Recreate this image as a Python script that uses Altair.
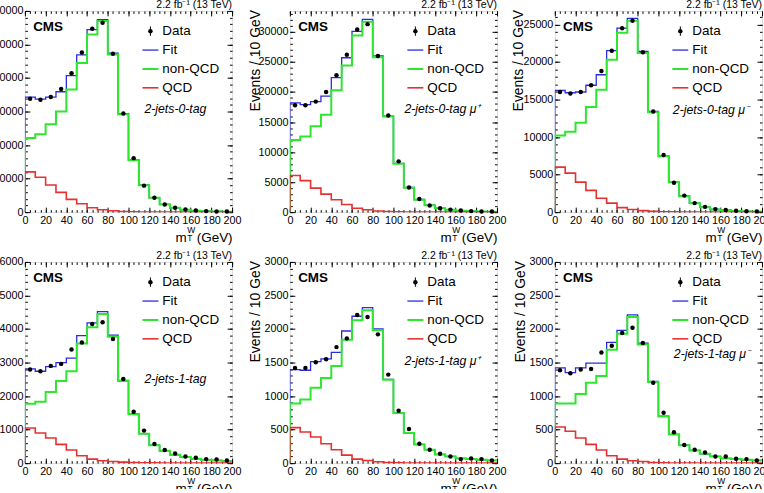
import altair as alt
import pandas as pd

# ---------------------------------------------------------------- binning
BIN_EDGES = list(range(0, 201, 10))          # m_T^W bin edges, GeV
BIN_CENTERS = [5 + 10 * i for i in range(20)]

LEGEND_LABELS = ["Data", "Fit", "non-QCD", "QCD"]
LUMI_TEXT = "2.2 fb\u207b\u00b9 (13 TeV)"
Y_TITLE = "Events / 10 GeV"

# ---------------------------------------------------------------- 2-jets-0-tag
p1_data = [33800, 33500, 34300, 36700, 41400, 47600, 54700, 56500, 47200, 29400,
           16100, 7900, 4300, 2300, 1300, 800, 500, 300, 200, 180]
p1_fit = [34300, 33700, 34300, 35900, 40700, 46900, 54400, 57400, 47400, 29400,
          15600, 8100, 4300, 2300, 1300, 750, 450, 300, 200, 130]
p1_nonqcd = [22100, 23200, 26200, 30000, 36600, 44500, 53000, 57000, 47000, 29200,
             15500, 8050, 4280, 2280, 1290, 740, 445, 295, 195, 128]
p1_qcd = [12000, 10400, 8100, 5900, 3800, 2500, 1300, 700, 400, 200,
          100, 60, 30, 20, 10, 10, 5, 5, 5, 2]

# ---------------------------------------------------------------- 2-jets-0-tag mu+
p2_data = [17800, 17800, 18400, 20000, 22800, 26200, 30400, 31300, 26000, 16100,
           8450, 4100, 2200, 1100, 650, 420, 280, 170, 120, 90]
p2_fit = [18200, 17900, 18400, 19300, 22400, 25700, 30100, 32100, 26000, 16000,
          8100, 4100, 2100, 1150, 650, 400, 250, 150, 100, 70]
p2_nonqcd = [12000, 12600, 14300, 16200, 20300, 24400, 29400, 31700, 25800, 15900,
             8050, 4070, 2080, 1140, 640, 390, 248, 149, 99, 69]
p2_qcd = [6100, 5250, 4000, 3000, 2050, 1270, 650, 400, 200, 100,
          50, 30, 20, 10, 10, 5, 2, 1, 1, 1]

# ---------------------------------------------------------------- 2-jets-0-tag mu-
p3_data = [16000, 15800, 16000, 16900, 18800, 21500, 24500, 25500, 21300, 13400,
           7600, 3900, 2200, 1200, 700, 400, 280, 170, 120, 100]
p3_fit = [16200, 15900, 16000, 16900, 18300, 21500, 24500, 25800, 21400, 13400,
          7500, 4000, 2150, 1200, 650, 350, 250, 150, 100, 80]
p3_nonqcd = [10200, 10700, 11900, 14000, 16300, 20300, 23900, 25500, 21200, 13300,
             7450, 3970, 2130, 1190, 640, 345, 248, 149, 99, 79]
p3_qcd = [6000, 5200, 4000, 2900, 1850, 1200, 600, 350, 200, 100,
          50, 30, 20, 10, 10, 5, 2, 1, 1, 1]

# ---------------------------------------------------------------- 2-jets-1-tag
p4_data = [2790, 2740, 2900, 2960, 3390, 3600, 4150, 4200, 3700, 2510,
           1530, 970, 570, 390, 290, 200, 160, 120, 110, 80]
p4_fit = [2810, 2740, 2880, 3000, 3130, 3800, 4180, 4520, 3820, 2470,
          1470, 880, 540, 370, 250, 180, 130, 100, 80, 60]
p4_nonqcd = [1770, 1830, 2120, 2450, 2740, 3570, 4050, 4450, 3770, 2450,
             1460, 875, 535, 368, 249, 180, 130, 100, 80, 60]
p4_qcd = [1050, 900, 750, 560, 390, 220, 120, 70, 50, 30,
          20, 10, 10, 3, 2, 1, 1, 1, 0, 0]

# ---------------------------------------------------------------- 2-jets-1-tag mu+
p5_data = [1420, 1420, 1505, 1550, 1730, 1860, 2210, 2180, 1920, 1320,
           780, 510, 290, 200, 140, 100, 60, 70, 60, 40]
p5_fit = [1395, 1385, 1515, 1555, 1650, 1970, 2190, 2320, 2000, 1250,
          750, 450, 280, 200, 130, 100, 70, 60, 50, 40]
p5_nonqcd = [890, 950, 1125, 1270, 1450, 1840, 2130, 2280, 1980, 1245,
             748, 449, 279, 199, 130, 100, 70, 60, 50, 40]
p5_qcd = [530, 465, 390, 290, 200, 120, 60, 40, 20, 10,
          5, 3, 2, 1, 1, 0, 0, 0, 0, 0]

# ---------------------------------------------------------------- 2-jets-1-tag mu-
p6_data = [1385, 1340, 1395, 1405, 1650, 1750, 1940, 2020, 1790, 1200,
           750, 460, 270, 200, 160, 100, 100, 65, 60, 40]
p6_fit = [1420, 1350, 1420, 1490, 1490, 1800, 1980, 2210, 1790, 1220,
          700, 430, 270, 190, 140, 100, 70, 60, 50, 40]
p6_nonqcd = [890, 890, 1030, 1200, 1300, 1690, 1930, 2180, 1770, 1210,
             695, 428, 268, 189, 140, 100, 70, 60, 50, 40]
p6_qcd = [540, 475, 375, 280, 195, 110, 60, 35, 25, 10,
          5, 3, 2, 1, 0, 0, 0, 0, 0, 0]

PANELS = [
    dict(tag="2-jets-0-tag", data=p1_data, fit=p1_fit, nonqcd=p1_nonqcd, qcd=p1_qcd,
         ymax=60000, major=10000, minor=2000, tag_x=120, tag_y=98, ytitle_x=-31),
    dict(tag="2-jets-0-tag  \u03bc\u207a", data=p2_data, fit=p2_fit, nonqcd=p2_nonqcd, qcd=p2_qcd,
         ymax=33500, major=5000, minor=1000, tag_x=115, tag_y=98, ytitle_x=-30),
    dict(tag="2-jets-0-tag  \u03bc\u207b", data=p3_data, fit=p3_fit, nonqcd=p3_nonqcd, qcd=p3_qcd,
         ymax=26800, major=5000, minor=1000, tag_x=118.5, tag_y=99, ytitle_x=-32),
    dict(tag="2-jets-1-tag", data=p4_data, fit=p4_fit, nonqcd=p4_nonqcd, qcd=p4_qcd,
         ymax=6000, major=1000, minor=200, tag_x=120, tag_y=117.5, ytitle_x=-30),
    dict(tag="2-jets-1-tag  \u03bc\u207a", data=p5_data, fit=p5_fit, nonqcd=p5_nonqcd, qcd=p5_qcd,
         ymax=3000, major=500, minor=100, tag_x=115, tag_y=99, ytitle_x=-30),
    dict(tag="2-jets-1-tag  \u03bc\u207b", data=p6_data, fit=p6_fit, nonqcd=p6_nonqcd, qcd=p6_qcd,
         ymax=3000, major=500, minor=100, tag_x=119.5, tag_y=92.5, ytitle_x=-30),
]

# ---------------------------------------------------------------- style
FONT = "Liberation Sans"
BLUE = "#2b2be0"
GREEN = "#2fe62f"
RED = "#e83030"
W, H = 208, 202
MAJOR_LEN, MINOR_LEN = 5, 2.5
LEG_X0, LEG_X1, LEG_TX = 118, 134, 138
LEG_Y = [20.3, 39.3, 58.3, 77.2]


def hist_frame(values):
    """Points of a ROOT-like step outline: rise at x=0, one step per bin."""
    xs = [0] + BIN_EDGES
    ys = [0] + list(values) + [values[-1]]
    return pd.DataFrame({"x": xs, "y": ys, "k": list(range(len(xs)))})


def x_axis(orient, step, length, labels):
    kw = dict(orient=orient, values=list(range(0, 201, step)), tickSize=length,
              offset=-length, domain=False, grid=False, title=None,
              tickColor="black", tickWidth=1, labels=labels)
    if labels:
        kw.update(format="d", labelFlush=False, labelOverlap=False,
                  labelPadding=2.5, labelFontSize=10.8, labelFont=FONT,
                  labelColor="black")
    return alt.Axis(**kw)


def y_axis(orient, ymax, step, length, labels):
    kw = dict(orient=orient, values=list(range(0, int(ymax) + 1, step)),
              tickSize=length, offset=-length, domain=False, grid=False,
              title=None, tickColor="black", tickWidth=1, labels=labels)
    if labels:
        kw.update(format="d", labelFlush=False, labelOverlap=False,
                  labelPadding=2, labelFontSize=10.8, labelFont=FONT,
                  labelColor="black")
    return alt.Axis(**kw)


def text_layer(text, x, y, size, **kw):
    return alt.Chart(alt.Data(values=[{}])).mark_text(
        text=text, font=FONT, fontSize=size, color="black", **kw
    ).encode(x=alt.value(x), y=alt.value(y))


def make_panel(p):
    xsc = alt.Scale(domain=[0, 200], nice=False, zero=False)
    ysc = alt.Scale(domain=[0, p["ymax"]], nice=False)

    def hist(values, color, width, xax, yax):
        return alt.Chart(hist_frame(values)).mark_line(
            interpolate="step-after", color=color, strokeWidth=width, clip=True
        ).encode(
            x=alt.X("x:Q", scale=xsc, axis=xax),
            y=alt.Y("y:Q", scale=ysc, axis=yax),
            order="k:Q",
        )

    fit = hist(p["fit"], BLUE, 1.3,
               x_axis("bottom", 20, MAJOR_LEN, True),
               y_axis("left", p["ymax"], p["major"], MAJOR_LEN, True))
    nonqcd = hist(p["nonqcd"], GREEN, 2.0,
                  x_axis("bottom", 5, MINOR_LEN, False),
                  y_axis("left", p["ymax"], p["minor"], MINOR_LEN, False))
    qcd = hist(p["qcd"], RED, 1.6,
               x_axis("top", 20, MAJOR_LEN, False),
               y_axis("right", p["ymax"], p["major"], MAJOR_LEN, False))
    points = alt.Chart(pd.DataFrame({"x": BIN_CENTERS, "y": p["data"]})).mark_circle(
        size=20, color="black", opacity=1
    ).encode(
        x=alt.X("x:Q", scale=xsc, axis=x_axis("top", 5, MINOR_LEN, False)),
        y=alt.Y("y:Q", scale=ysc, axis=y_axis("right", p["ymax"], p["minor"], MINOR_LEN, False)),
    )

    # legend
    leg = [
        alt.Chart(alt.Data(values=[{}])).mark_rule(color="black", strokeWidth=1).encode(
            x=alt.value((LEG_X0 + LEG_X1) / 2), y=alt.value(LEG_Y[0] - 4.7),
            y2=alt.value(LEG_Y[0] + 4.7)),
        alt.Chart(alt.Data(values=[{}])).mark_circle(size=20, color="black", opacity=1).encode(
            x=alt.value((LEG_X0 + LEG_X1) / 2), y=alt.value(LEG_Y[0])),
    ]
    for label_y, color, width in zip(LEG_Y[1:], [BLUE, GREEN, RED], [1.3, 2.0, 1.6]):
        leg.append(alt.Chart(alt.Data(values=[{}])).mark_rule(color=color, strokeWidth=width).encode(
            x=alt.value(LEG_X0), x2=alt.value(LEG_X1), y=alt.value(label_y)))
    for label, label_y in zip(LEGEND_LABELS, LEG_Y):
        leg.append(text_layer(label, LEG_TX, label_y, 13.5, align="left", baseline="middle"))

    texts = [
        text_layer("CMS", 8.3, 16.5, 13.5, fontWeight="bold", align="left", baseline="middle"),
        text_layer(p["tag"], p["tag_x"], p["tag_y"], 12.3, fontStyle="italic",
                   align="left", baseline="middle"),
        text_layer(LUMI_TEXT, W, -2.5, 10.5, align="right", baseline="alphabetic"),
        text_layer(Y_TITLE, p["ytitle_x"], -1, 14, angle=270, align="right",
                   baseline="alphabetic"),
        # x-axis title  m_T^W (GeV)
        text_layer("m", W - 45.5, H + 30, 13.5, align="right", baseline="alphabetic"),
        text_layer("W", W - 45, H + 21, 8.5, align="left", baseline="alphabetic"),
        text_layer("T", W - 45, H + 28.8, 8.5, align="left", baseline="alphabetic"),
        text_layer("(GeV)", W + 0.5, H + 30, 13.5, align="right", baseline="alphabetic"),
    ]

    return alt.layer(fit, nonqcd, qcd, points, *leg, *texts).resolve_axis(
        x="independent", y="independent"
    ).properties(width=W, height=H)


chart = alt.concat(
    *[make_panel(p) for p in PANELS],
    columns=3,
    spacing={"row": 50, "column": 58},
    bounds="flush",
).properties(
    padding={"left": -18, "top": -1, "right": -8, "bottom": -8},
    background="white",
).configure_view(
    stroke="black", strokeWidth=1
).configure(font=FONT)

chart.save("out.html", embed_options={"renderer": "svg", "actions": False})
